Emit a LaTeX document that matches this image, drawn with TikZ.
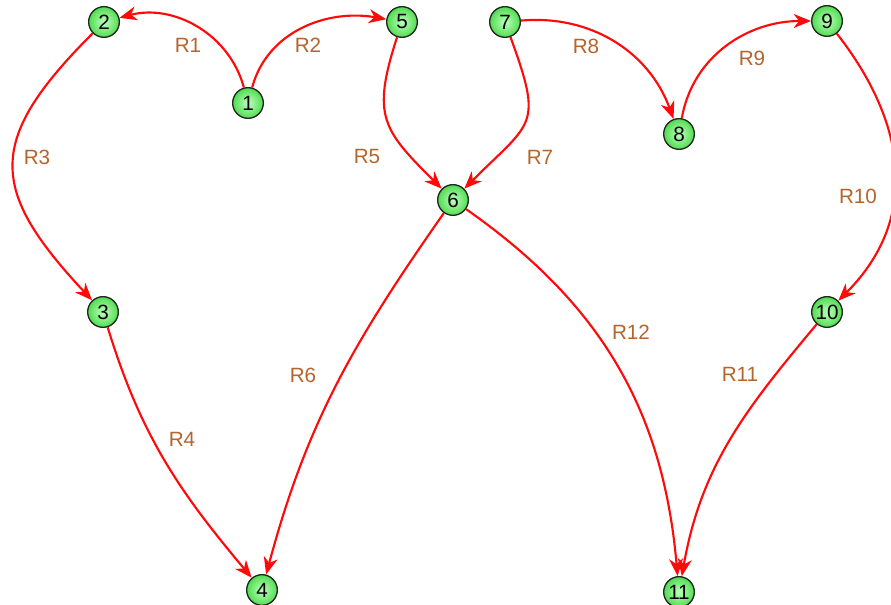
\documentclass[tikz,border=0pt]{standalone}
\usepackage{fontspec}
\setmainfont{Liberation Sans}
\usetikzlibrary{arrows.meta}
\definecolor{edgered}{RGB}{255,10,10}
\definecolor{lblbrown}{RGB}{180,100,45}
\definecolor{nodegreen}{RGB}{80,220,80}
\definecolor{nodelight}{RGB}{190,255,190}
\definecolor{nodeborder}{RGB}{30,40,30}
\tikzset{
  vtx/.style={circle, draw=nodeborder, line width=1pt, inner sep=0pt, minimum size=23pt,
    inner color=nodelight, outer color=nodegreen, font=\fontsize{15.5}{17}\selectfont, text=black},
  lbl/.style={text=lblbrown, font=\fontsize{15.5}{17}\selectfont, inner sep=0pt},
  rel/.style={draw=edgered, line width=1.6pt, -{Stealth[length=13pt, width=10.5pt, inset=4pt]}}
}
\begin{document}
\begin{tikzpicture}[x=0.75pt, y=0.75pt]
\useasboundingbox (0,0) rectangle (891,605);
% nodes
\node[vtx] (n1) at (248,502) {1};
\node[vtx] (n2) at (104,583) {2};
\node[vtx] (n5) at (402,583) {5};
\node[vtx] (n7) at (505,583) {7};
\node[vtx] (n9) at (827,584) {9};
\node[vtx] (n8) at (679,471) {8};
\node[vtx] (n6) at (453,405) {6};
\node[vtx] (n3) at (103,293) {3};
\node[vtx] (n10) at (827,293) {10};
\node[vtx] (n4) at (262,15) {4};
\node[vtx] (n11) at (679,13) {11};
% edges
\draw[rel] (n1) to[out=105, in=15] (n2);
\draw[rel] (n1) to[out=75, in=170] (n5);
\draw[rel] (n2) to[out=225, in=133, looseness=1.45] (n3);
\draw[rel] (n3) to[out=-73, in=130] (n4);
\draw[rel] (n5) to[out=252, in=135, looseness=1.35] (n6);
\draw[rel] (n6) to[out=235, in=75] (n4);
\draw[rel] (n7) to[out=-70, in=45, looseness=1.55] (n6);
\draw[rel] (n7) to[out=5, in=110] (n8);
\draw[rel] (n8) to[out=80, in=180] (n9);
\draw[rel] (n9) to[out=-52, in=45, looseness=1.1] (n10);
\draw[rel] (n10) to[out=230, in=80] (n11);
\draw[rel] (n6) to[out=-35, in=95] (n11);
% labels
\node[lbl] (l1) at (188,560) {R1};
\node[lbl] (l2) at (308,560) {R2};
\node[lbl] (l3) at (37,448) {R3};
\node[lbl] (l4) at (182,166) {R4};
\node[lbl] (l5) at (367,448) {R5};
\node[lbl] (l6) at (303,230) {R6};
\node[lbl] (l7) at (540,448) {R7};
\node[lbl] (l8) at (586,559) {R8};
\node[lbl] (l9) at (752,547) {R9};
\node[lbl] (l10) at (858,409) {R10};
\node[lbl] (l11) at (740,231) {R11};
\node[lbl] (l12) at (631,273) {R12};
\end{tikzpicture}
\end{document}
